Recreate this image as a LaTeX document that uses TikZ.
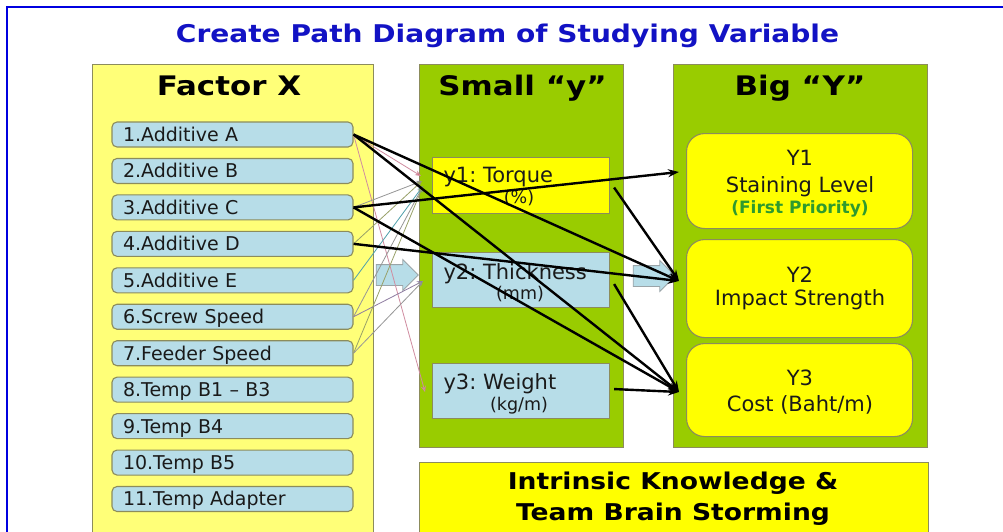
\documentclass[tikz,border=0pt]{standalone}
\usepackage{fontspec}
\setmainfont{DejaVu Sans}
\newfontfamily\headfont{DejaVu Sans}[FakeStretch=1.15]
\usetikzlibrary{arrows.meta,shapes.arrows}
\frenchspacing

\definecolor{frameblue}{HTML}{0000E0}
\definecolor{titleblue}{HTML}{1212C4}
\definecolor{paleyellow}{HTML}{FFFF78}
\definecolor{leaf}{HTML}{99CC00}
\definecolor{lemon}{HTML}{FFFF00}
\definecolor{sky}{HTML}{B7DDE8}
\definecolor{rim}{HTML}{8C8C5C}
\definecolor{greyrim}{HTML}{9AA4A8}
\definecolor{prioritygreen}{HTML}{2E9A2E}
\definecolor{inkdark}{HTML}{1A1A1A}
\definecolor{pinkline}{HTML}{D08CA0}
\definecolor{greyline}{HTML}{969696}
\definecolor{oliveline}{HTML}{98A068}
\definecolor{tealline}{HTML}{4FA0AC}
\definecolor{mauveline}{HTML}{8E7CA0}
\definecolor{tipred}{HTML}{E0402C}
\definecolor{tipgreen}{HTML}{30A030}
\definecolor{tipblue}{HTML}{2C3C80}

\begin{document}
\begin{tikzpicture}[x=1pt,y=1pt,
  panel/.style={draw=rim, line width=1.1pt, inner sep=0pt, anchor=north west},
  item/.style={draw=rim, line width=1.1pt, fill=sky, rounded corners=5pt,
    minimum width=241pt, minimum height=25pt, text width=219pt, align=left,
    inner xsep=11pt, inner ysep=0pt, text height=13.9pt, text depth=0pt,
    text=inkdark, font=\fontsize{19}{22}\selectfont},
  ybox/.style={panel, minimum width=177pt},
  bigbox/.style={panel, fill=lemon, rounded corners=18pt, minimum width=226pt},
  heading/.style={anchor=base, font=\headfont\bfseries\fontsize{26.9}{30}\selectfont},
  bodytext/.style={anchor=base, text=inkdark, font=\fontsize{21}{24}\selectfont},
  unittext/.style={anchor=base, text=inkdark, font=\fontsize{17.5}{20}\selectfont},
  blockarrow/.style={single arrow, draw=greyrim, line width=0.8pt, fill=sky,
    inner xsep=0pt, inner ysep=10pt, single arrow head extend=5pt,
    minimum height=42pt},
  link/.style={line width=2.4pt, -{Stealth[length=11pt,width=8pt]}},
  thin/.style={line width=0.8pt}
]
\useasboundingbox (0,0) rectangle (1003,-531);
\fill[white] (0,0) rectangle (1003,-531);

% slide frame
\draw[frameblue, line width=2.5pt] (7,-560) -- (7,-7) -- (1030,-7);

% title
\node[anchor=base, text=titleblue, font=\headfont\bfseries\fontsize{24.4}{28}\selectfont]
  (title) at (507.5,-42) {Create Path Diagram of Studying Variable};

% column panels
\node[panel, fill=paleyellow, minimum width=281pt, minimum height=490pt] (factor) at (92,-64) {};
\node[panel, fill=leaf, minimum width=204pt, minimum height=383pt] (small) at (419,-64) {};
\node[panel, fill=leaf, minimum width=254pt, minimum height=383pt] (big) at (673,-64) {};
\node[panel, fill=lemon, minimum width=509pt, minimum height=90pt] (know) at (419,-462) {};

\node[heading] (hfactor) at (229,-95) {Factor X};
\node[heading] (hsmall) at (522.5,-95) {Small “y”};
\node[heading] (hbig) at (800,-95) {Big “Y”};

% wide arrows between the columns
\node[blockarrow] (flow1) at (392,-275) {};
\node[blockarrow] (flow2) at (649,-276) {};

% factors
\foreach \lab [count=\i] in {1.Additive A,2.Additive B,3.Additive C,4.Additive D,
  5.Additive E,6.Screw Speed,7.Feeder Speed,8.Temp B1 – B3,9.Temp B4,10.Temp B5,
  11.Temp Adapter}
  \node[item] (f\i) at (232.5,{-134.5-36.45*(\i-1)}) {\lab};

% small y boxes
\node[ybox, fill=lemon, minimum height=56pt] (ya) at (432,-157) {};
\node[ybox, fill=sky, minimum height=55pt] (yb) at (432,-252) {};
\node[ybox, fill=sky, minimum height=55pt] (yc) at (432,-363) {};
\node[bodytext, anchor=base west] (yat) at (440,-182) {y1: Torque};
\node[unittext] (yau) at (519,-203) {(\%)};
\node[bodytext, anchor=base west] (ybt) at (440,-279) {y2: Thickness};
\node[unittext] (ybu) at (520,-299) {(mm)};
\node[bodytext, anchor=base west] (yct) at (440,-389) {y3: Weight};
\node[unittext] (ycu) at (519,-410) {(kg/m)};

% big Y boxes
\node[bigbox, minimum height=95pt] (Ya) at (686,-133) {};
\node[bigbox, minimum height=98pt] (Yb) at (686,-239) {};
\node[bigbox, minimum height=93pt] (Yc) at (686,-343) {};
\node[bodytext] (Yat) at (800,-165) {Y1};
\node[bodytext] (Yas) at (800,-192) {Staining Level};
\node[anchor=base, text=prioritygreen, font=\bfseries\fontsize{17}{20}\selectfont]
  (Yap) at (800,-213) {(First Priority)};
\node[bodytext] (Ybt) at (800,-282) {Y2};
\node[bodytext] (Ybs) at (800,-305) {Impact Strength};
\node[bodytext] (Yct) at (800,-385) {Y3};
\node[bodytext] (Ycs) at (800,-411) {Cost (Baht/m)};

% knowledge banner
\node[anchor=base, font=\headfont\bfseries\fontsize{23.1}{26}\selectfont]
  (know1) at (673,-489) {Intrinsic Knowledge \&};
\node[anchor=base, font=\headfont\bfseries\fontsize{23.1}{26}\selectfont]
  (know2) at (673,-520) {Team Brain Storming};

% ends of the links
\coordinate (ina1) at (421,-176);
\coordinate (ina2) at (422,-181);
\coordinate (ina3) at (423,-186);
\coordinate (inb) at (423,-281);
\coordinate (inc) at (425,-392);
\coordinate (inY1) at (679,-172);
\coordinate (inY2) at (679,-281);
\coordinate (inY3) at (679,-392);

% thin links from factors to small y
\draw[thin, pinkline, -{Stealth[length=6pt,width=5pt,fill=tipred]}] (f1.east) -- (ina1);
\draw[thin, pinkline, -{Stealth[length=6pt,width=5pt,fill=tipred]}] (f1.east) -- (inc);
\draw[thin, greyline, -{Stealth[length=6pt,width=5pt]}] (f3.east) -- (ina2);
\draw[thin, oliveline, -{Stealth[length=6pt,width=5pt]}] (f4.east) -- (ina2);
\draw[thin, tealline, -{Stealth[length=6pt,width=5pt,fill=tipgreen]}] (f5.east) -- (ina3);
\draw[thin, greyline, -{Stealth[length=6pt,width=5pt]}] (f6.east) -- (ina3);
\draw[thin, mauveline, -{Stealth[length=6pt,width=5pt,fill=tipblue]}] (f6.east) -- (inb);
\draw[thin, oliveline, -{Stealth[length=6pt,width=5pt,fill=tipgreen]}] (f7.east) -- (ina3);
\draw[thin, greyline, -{Stealth[length=6pt,width=5pt,fill=tipblue]}] (f7.east) -- (inb);

% main paths
\draw[link] (f1.east) -- (inY2);
\draw[link] (f1.east) -- (inY3);
\draw[link] (f3.east) -- (inY1);
\draw[link] (f3.east) -- (inY3);
\draw[link] (f4.east) -- (inY2);
\draw[link] ([xshift=4pt,yshift=-2pt]ya.east) -- (inY2);
\draw[link] ([xshift=4pt,yshift=-4pt]yb.east) -- (inY3);
\draw[link] ([xshift=4pt,yshift=2pt]yc.east) -- (inY3);
\end{tikzpicture}
\end{document}
